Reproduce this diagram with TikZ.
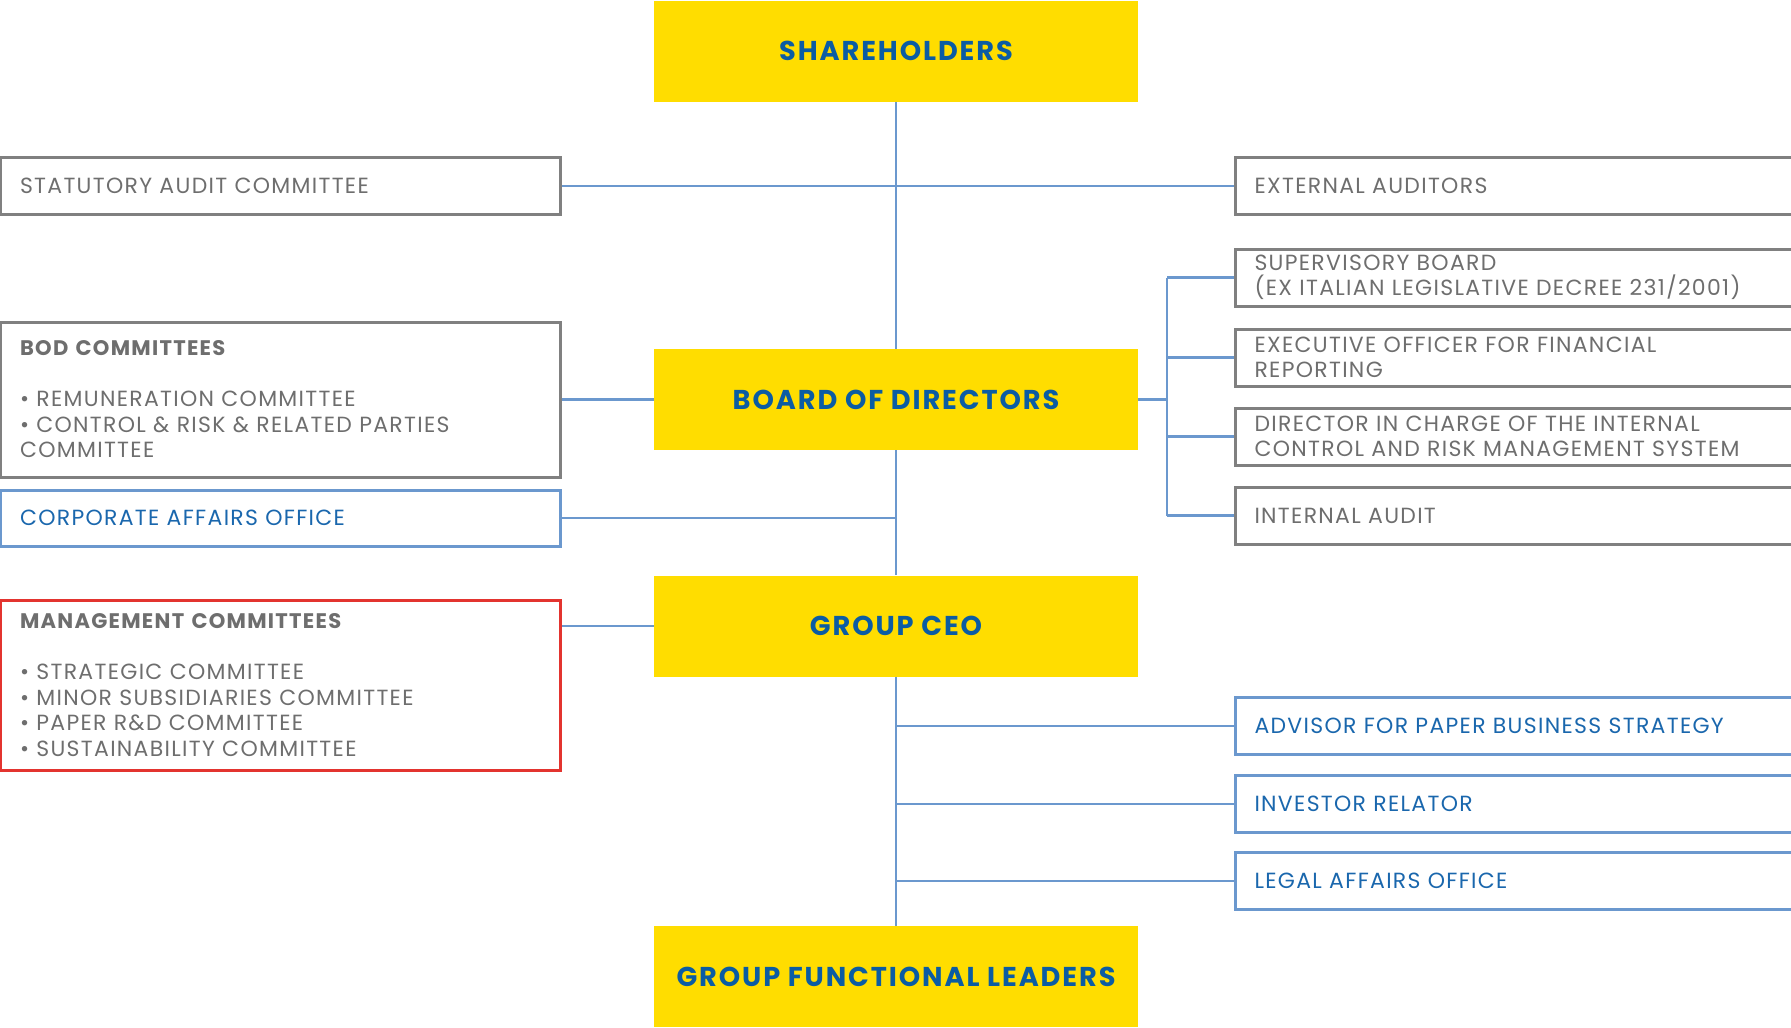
\documentclass[tikz,border=0pt]{standalone}
\usepackage{fontspec}
\setmainfont{Poppins}
\newfontfamily\boxfont[LetterSpace=6]{Poppins}
\newfontfamily\topfont[LetterSpace=7]{Poppins}
\usepackage{xcolor}
\usepackage{tikz}

\definecolor{boxyellow}{HTML}{FFDD00}
\definecolor{darkblue}{HTML}{0B5CA3}
\definecolor{textblue}{HTML}{1A67AD}
\definecolor{lineblue}{HTML}{6B98CE}
\definecolor{boxgray}{HTML}{808080}
\definecolor{textgray}{HTML}{6E6E6E}
\definecolor{boxred}{HTML}{E3342F}

\newcommand{\boxtitle}[1]{{\fontsize{12}{14.5}\selectfont\bfseries #1}}

\begin{document}
\begin{tikzpicture}[
    topbox/.style={fill=boxyellow, minimum width=9.68cm, minimum height=2.02cm, inner sep=0pt, text=darkblue, font=\topfont\fontsize{15.5}{18}\selectfont\bfseries},
    graybox/.style={draw=boxgray, line width=0.6mm, text=textgray, align=left, inner xsep=0.38cm, inner ysep=0pt, font=\boxfont\fontsize{12.5}{14.5}\selectfont},
    bluebox/.style={graybox, draw=lineblue, text=textblue},
    redbox/.style={graybox, draw=boxred},
    lbox/.style={text width=10.42cm, minimum height=1.14cm},
    rbox/.style={text width=11.24cm, minimum height=1.14cm, anchor=west},
    link/.style={draw=lineblue, line width=0.5mm}
]
        \useasboundingbox (0, 0) rectangle (35.82, -20.54);

        \node[topbox] (SH) at (17.92, -1.02) {SHAREHOLDERS};
        \node[topbox] (BD) at (17.92, -7.99) {BOARD OF DIRECTORS};
        \node[topbox] (CEO) at (17.92, -12.52) {GROUP CEO};
        \node[topbox] (GFL) at (17.92, -19.53) {GROUP FUNCTIONAL LEADERS};

        \node[graybox, lbox] (SAC) at (5.61, -3.72) {STATUTORY AUDIT COMMITTEE};
        \node[graybox, lbox, minimum height=3.1cm] (BDC) at (5.61, -7.99) {\boxtitle{BOD COMMITTEES}\\[14.5pt]
            • REMUNERATION COMMITTEE\\
            • CONTROL \& RISK \& RELATED PARTIES\\
            COMMITTEE};
        \node[bluebox, lbox, minimum height=1.12cm] (CAF) at (5.61, -10.36) {CORPORATE AFFAIRS OFFICE};
        \node[redbox, lbox, minimum height=3.4cm] (MGC) at (5.61, -13.70) {\boxtitle{MANAGEMENT COMMITTEES}\\[14.5pt]
            • STRATEGIC COMMITTEE\\
            • MINOR SUBSIDIARIES COMMITTEE\\
            • PAPER R\&D COMMITTEE\\
            • SUSTAINABILITY COMMITTEE};

        \node[graybox, rbox] (EXT) at (24.68, -3.72) {EXTERNAL AUDITORS};
        \node[graybox, rbox] (SUP) at (24.68, -5.55) {SUPERVISORY BOARD\\(EX ITALIAN LEGISLATIVE DECREE 231/2001)};
        \node[graybox, rbox] (EXO) at (24.68, -7.15) {EXECUTIVE OFFICER FOR FINANCIAL\\REPORTING};
        \node[graybox, rbox] (DIR) at (24.68, -8.73) {DIRECTOR IN CHARGE OF THE INTERNAL\\CONTROL AND RISK MANAGEMENT SYSTEM};
        \node[graybox, rbox] (INA) at (24.68, -10.31) {INTERNAL AUDIT};

        \node[bluebox, rbox] (ADV) at (24.68, -14.52) {ADVISOR FOR PAPER BUSINESS STRATEGY};
        \node[bluebox, rbox] (INV) at (24.68, -16.08) {INVESTOR RELATOR};
        \node[bluebox, rbox] (LEG) at (24.68, -17.62) {LEGAL AFFAIRS OFFICE};

        \coordinate (K) at (23.34, -7.99);

        \path [link] (SH) edge (BD);
        \path [link] (BD) edge (CEO);
        \path [link] (CEO) edge (GFL);

        \path [link] (SAC.east) edge (EXT.west);
        \path [link] (BDC) edge (BD);
        \path [link] (CAF.east) edge (CAF.east -| BD.south);
        \path [link] (CEO.west) edge (CEO.west -| MGC.east);

        \path [link] (BD.east) edge (K);
        \path [link] (SUP.west -| K) edge (INA.west -| K);
        \path [link] (SUP.west) edge (SUP.west -| K);
        \path [link] (EXO.west) edge (EXO.west -| K);
        \path [link] (DIR.west) edge (DIR.west -| K);
        \path [link] (INA.west) edge (INA.west -| K);

        \path [link] (ADV.west) edge (ADV.west -| CEO.south);
        \path [link] (INV.west) edge (INV.west -| CEO.south);
        \path [link] (LEG.west) edge (LEG.west -| CEO.south);
\end{tikzpicture}
\end{document}
